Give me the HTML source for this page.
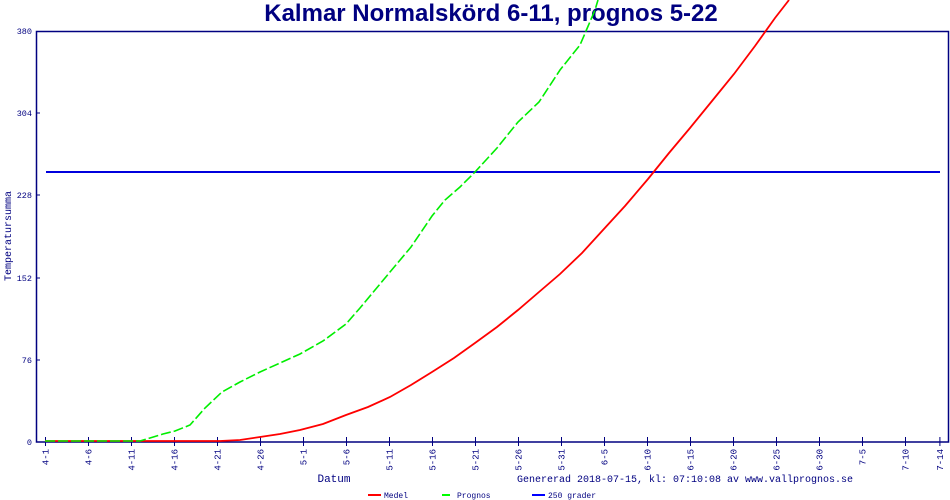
<!DOCTYPE html>
<html><head><meta charset="utf-8"><style>
html,body{margin:0;padding:0;background:#fff;}
svg{display:block;}
text{font-family:"Liberation Mono","DejaVu Sans Mono",monospace;fill:#000080;}
</style></head><body>
<svg width="950" height="500" viewBox="0 0 950 500" xmlns="http://www.w3.org/2000/svg">
<text x="491" y="21" text-anchor="middle" style="font-family:'Liberation Sans',sans-serif;font-weight:bold;font-size:24px;fill:#000080">Kalmar Normalskörd 6-11, prognos 5-22</text>
<rect x="36.5" y="31.5" width="912" height="410.5" fill="none" stroke="#000080" stroke-width="1.5"/>
<g font-size="8.5" text-anchor="end">
<text x="32" y="34">380</text><text x="32" y="116">304</text><text x="32" y="198">228</text>
<text x="32" y="281">152</text><text x="32" y="363">76</text><text x="32" y="445">0</text>
</g>
<g stroke="#000080" stroke-width="1">
<line x1="36" y1="113" x2="40" y2="113"/><line x1="36" y1="195" x2="40" y2="195"/>
<line x1="36" y1="278" x2="40" y2="278"/><line x1="36" y1="360" x2="40" y2="360"/>
</g>
<g id="xt" stroke="#000080" stroke-width="1"></g>
<g id="xl" font-size="9" text-anchor="end"></g>
<text transform="translate(11,236) rotate(-90)" font-size="10" text-anchor="middle">Temperatursumma</text>
<text x="334" y="482" font-size="11" text-anchor="middle">Datum</text>
<text x="517" y="482" font-size="10">Genererad 2018-07-15, kl: 07:10:08 av www.vallprognos.se</text>
<line x1="368" y1="495" x2="381" y2="495" stroke="#ff0000" stroke-width="2"/>
<text x="384" y="498" font-size="8">Medel</text>
<line x1="442" y1="495" x2="450" y2="495" stroke="#00ff00" stroke-width="2"/>
<text x="457" y="498" font-size="8">Prognos</text>
<line x1="532" y1="495" x2="545" y2="495" stroke="#0000ff" stroke-width="2"/>
<text x="548" y="498" font-size="8">250 grader</text>
<line x1="46" y1="172" x2="940" y2="172" stroke="#0000dd" stroke-width="2"/>
<polyline fill="none" stroke="#ff0000" stroke-width="1.8" points="45,441 220,441 240,440 260,437 280,434 300,430 323,424 346,415 368,407 390,397 411,385 432,372 454,358 475,343 497,327 518,310 539,292 560,274 582,253 603,230 625,206 648,179 669,153 690,128 712,101 734,74 755,46 775,18 789,0"/>
<polyline fill="none" stroke="#00ee00" stroke-width="1.6" stroke-dasharray="10,3" points="45,441 140,441 150,438 163,434 175,431 190,425 205,408 222,392 240,382 260,372 280,363 300,354 323,341 346,324 360,308 375,290 390,272 411,247 432,216 445,200 460,187 475,172 497,148 518,122 539,102 560,70 580,45 595,10 598,0"/>
</svg>
<script>
var labs=["4-1","4-6","4-11","4-16","4-21","4-26","5-1","5-6","5-11","5-16","5-21","5-26","5-31","6-5","6-10","6-15","6-20","6-25","6-30","7-5","7-10","7-14"];
var ns="http://www.w3.org/2000/svg",xt=document.getElementById("xt"),xl=document.getElementById("xl");
labs.forEach(function(l,i){var d=i<21?i*5:104;var x=45.5+8.6*d;
var ln=document.createElementNS(ns,"line");ln.setAttribute("x1",x);ln.setAttribute("x2",x);ln.setAttribute("y1",437);ln.setAttribute("y2",446);xt.appendChild(ln);
var t=document.createElementNS(ns,"text");t.setAttribute("transform","translate("+(x+3)+",449) rotate(-90)");t.textContent=l;xl.appendChild(t);});
</script>
</body></html>
